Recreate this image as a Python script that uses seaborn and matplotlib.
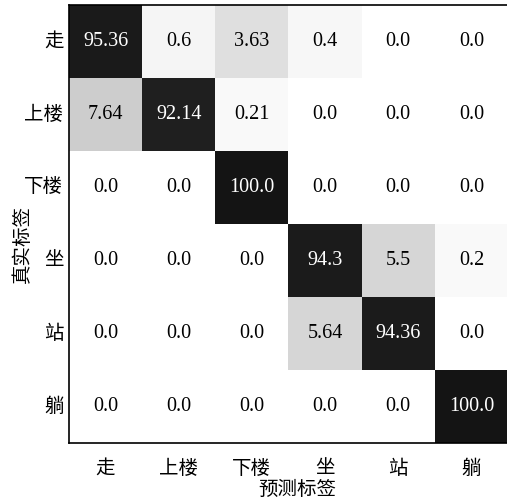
import numpy as np
import pandas as pd
import matplotlib
matplotlib.use("Agg")
import matplotlib.pyplot as plt
from matplotlib.colors import LinearSegmentedColormap, PowerNorm
import seaborn as sns

# Activity classes (true rows / predicted columns)
labels = ["走", "上楼", "下楼", "坐", "站", "躺"]

# Row-normalised confusion matrix, in percent
row_walk = [95.36, 0.6, 3.63, 0.4, 0.0, 0.0]
row_up = [7.64, 92.14, 0.21, 0.0, 0.0, 0.0]
row_down = [0.0, 0.0, 100.0, 0.0, 0.0, 0.0]
row_sit = [0.0, 0.0, 0.0, 94.3, 5.5, 0.2]
row_stand = [0.0, 0.0, 0.0, 5.64, 94.36, 0.0]
row_lie = [0.0, 0.0, 0.0, 0.0, 0.0, 100.0]

matrix = pd.DataFrame(
    [row_walk, row_up, row_down, row_sit, row_stand, row_lie],
    index=labels, columns=labels,
)

sns.set_theme(style="white")
plt.rcParams["font.family"] = ["Liberation Serif", "Noto Sans CJK SC", "DejaVu Sans"]
plt.rcParams["axes.unicode_minus"] = False

fig = plt.figure(figsize=(5.07, 5.0), dpi=100)
ax = fig.add_axes([0.136, 0.114, 0.866, 0.876])

cmap = LinearSegmentedColormap.from_list("bw", ["#ffffff", "#141414"])
norm = PowerNorm(gamma=0.6, vmin=0, vmax=100)

annot = matrix.map(lambda v: f"{v:g}" if v % 1 else f"{v:.1f}")

sns.heatmap(
    matrix, ax=ax, cmap=cmap, norm=norm, cbar=False,
    annot=annot, fmt="", square=False,
    annot_kws={"fontsize": 14.5, "fontfamily": ["Liberation Serif"]},
)

# White text on dark cells, black on light ones
for txt, v in zip(ax.texts, matrix.values.ravel()):
    txt.set_color("white" if v > 50 else "black")

for side in ["left", "bottom", "top", "right"]:
    ax.spines[side].set_visible(True)
    ax.spines[side].set_color("black")
    ax.spines[side].set_linewidth(1.2)

ax.tick_params(axis="both", which="major", direction="in", length=5,
               width=1, color="black", labelsize=14, pad=4)
ax.tick_params(axis="x", pad=12)
ax.set_xticklabels(labels, rotation=0)
ax.set_yticklabels(labels, rotation=0)
for t in ax.get_xticklabels() + ax.get_yticklabels():
    t.set_color("black")

ax.set_xlabel("预测标签", fontsize=14, color="black")
ax.set_ylabel("真实标签", fontsize=14, color="black")
ax.xaxis.set_label_coords(0.52, -0.087)
ax.yaxis.set_label_coords(-0.084, 0.455)

fig.savefig("out.png", dpi=100)
